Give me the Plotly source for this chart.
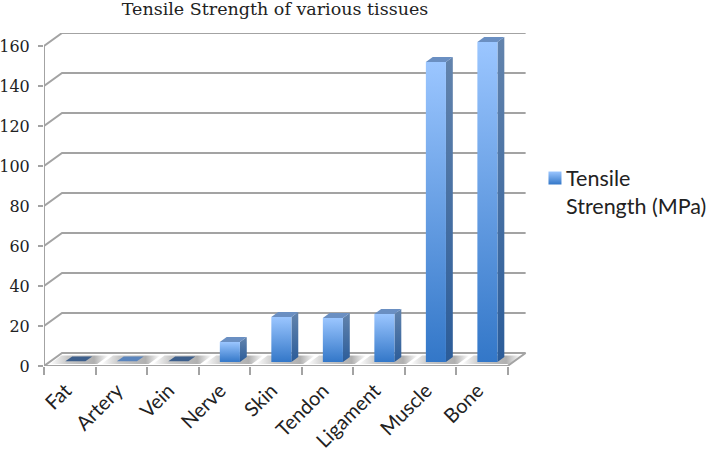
import plotly.graph_objects as go

tissues = ["Fat", "Artery", "Vein", "Nerve", "Skin", "Tendon", "Ligament", "Muscle", "Bone"]
strength = [0.3, 0.3, 0.3, 10, 22.5, 22, 24, 150, 160]
y_ticks = [0, 20, 40, 60, 80, 100, 120, 140, 160]
series_name = "Tensile<br>Strength (MPa)"

# oblique projection of the fake 3D box, in data units
DX = 0.35
DY = 6.5
BAR_W = 0.39
BAR_NEAR = 0.31
BAR_FAR = 0.69
N = len(tissues)
# the x axis runs on to the right edge of the page so the key fits on it
X_MAX = 12.91

GRID = "#a3a3a3"
FLAT_COLORS = {"Fat": "#3d5f8c", "Artery": "#5b85bd", "Vein": "#3d5f8c"}


def line_trace(xs, ys, xaxis="x", width=2):
    return go.Scatter(x=xs, y=ys, xaxis=xaxis, mode="lines", cliponaxis=False,
                      line=dict(color=GRID, width=width), showlegend=False, hoverinfo="skip")


def poly_trace(xs, ys, color=None, gradient=None):
    kw = dict(fillgradient=gradient) if gradient else dict(fillcolor=color)
    return go.Scatter(x=xs, y=ys, mode="none", fill="toself", cliponaxis=False,
                      showlegend=False, hoverinfo="skip", **kw)


fig = go.Figure()

# back wall gridlines + left wall diagonals
for v in y_ticks:
    fig.add_trace(line_trace([0, DX, N + DX], [v, v + DY, v + DY]))

# left axis and floor front/right edge
fig.add_trace(line_trace([0, 0], [0, y_ticks[-1]]))
fig.add_trace(line_trace([0, N, N + DX], [0, 0, DY], xaxis="x2"))

# floor shadows
for i in range(N):
    x0 = i + 0.06
    x1 = i + 0.98
    lo = 0.15
    hi = 0.8
    fig.add_trace(poly_trace(
        [x0 + lo * DX, x1 + lo * DX, x1 + hi * DX, x0 + hi * DX],
        [lo * DY, lo * DY, hi * DY, hi * DY],
        gradient=dict(type="horizontal", colorscale=[
            [0, "#ffffff"], [0.3, "#c8c8c8"], [0.75, "#b0b0b0"], [1, "#ffffff"]]),
    ))

# bars: front, side and top faces
for i, (name, v) in enumerate(zip(tissues, strength)):
    xl = i + 0.5 - BAR_W / 2 + BAR_NEAR * DX
    xr = xl + BAR_W
    base = BAR_NEAR * DY
    top = base + v
    depth_x = (BAR_FAR - BAR_NEAR) * DX
    depth_y = (BAR_FAR - BAR_NEAR) * DY

    if name in FLAT_COLORS:
        fig.add_trace(poly_trace([xl, xr, xr + depth_x, xl + depth_x],
                                 [top, top, top + depth_y, top + depth_y],
                                 color=FLAT_COLORS[name]))
        continue

    fig.add_trace(poly_trace([xr, xr + depth_x, xr + depth_x, xr],
                             [base, base + depth_y, top + depth_y, top],
                             gradient=dict(type="vertical", colorscale=[[0, "#2b5c99"], [1, "#6384ad"]])))
    fig.add_trace(poly_trace([xl, xr, xr + depth_x, xl + depth_x],
                             [top, top, top + depth_y, top + depth_y],
                             color="#6a8fc2"))
    fig.add_trace(poly_trace([xl, xr, xr, xl], [base, base, top, top],
                             gradient=dict(type="vertical", colorscale=[[0, "#3377c8"], [1, "#9bc6ff"]])))

# legend key: plotly's own legend leaves too wide a gap before the text
fig.add_trace(go.Scatter(
    x=[9.92], y=[94], mode="markers", cliponaxis=False, showlegend=False, hoverinfo="skip",
    marker=dict(symbol="square", size=13, color="#9bc6ff",
                gradient=dict(type="vertical", color="#3377c8")),
))
fig.add_annotation(text=series_name, xref="paper", yref="paper", x=0.7825, y=0.5225,
                   xanchor="left", yanchor="middle", align="left", showarrow=False,
                   font=dict(family="Lato", size=21.5, color="#222222"))

fig.update_layout(
    width=709, height=454,
    showlegend=False,
    margin=dict(l=44, r=0, t=33, b=88, autoexpand=False),
    paper_bgcolor="white", plot_bgcolor="white",
    title=dict(text="Tensile Strength of various tissues", x=275 / 709, xanchor="center",
               y=0.98, yanchor="middle", font=dict(family="DejaVu Serif", size=17.5, color="#222222")),
    xaxis=dict(range=[0, X_MAX], tickvals=[i + 0.42 for i in range(N)], ticktext=tissues,
               tickangle=-45, ticks="outside", ticklen=4, tickcolor="rgba(0,0,0,0)",
               showgrid=False, zeroline=False, showline=False,
               tickfont=dict(family="Lato", size=20, color="#222222")),
    xaxis2=dict(range=[0, X_MAX], overlaying="x", side="bottom", tickvals=list(range(N + 1)),
                ticks="outside", ticklen=8, tickwidth=2, tickcolor=GRID, showticklabels=False,
                showgrid=False, zeroline=False, showline=False),
    yaxis=dict(range=[0, y_ticks[-1] + DY], tickvals=y_ticks, ticks="outside", ticklen=5,
               tickwidth=2, tickcolor=GRID, showgrid=False, zeroline=False, showline=False,
               ticklabelstandoff=5,
               tickfont=dict(family="DejaVu Serif", size=16, color="#222222")),
)

# drop the browser's default 8px body margin so the figure fills the window
fig.write_html("out.html", config=dict(displayModeBar=False),
               post_script="document.body.style.margin = '0';")
